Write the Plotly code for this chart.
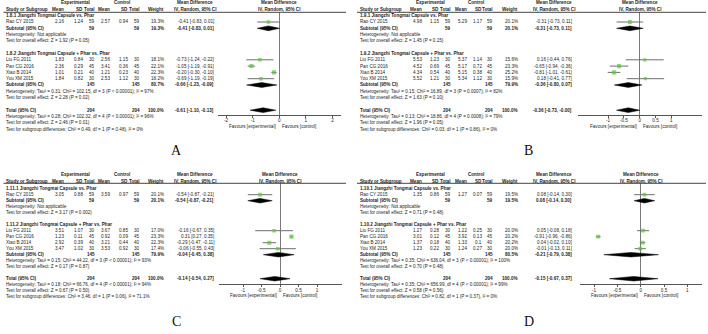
import plotly.graph_objects as go

# ---------------- data ----------------
studies = ["Rao CY 2015", "Liu FG 2011", "Pan CG 2016", "Xiao B 2014", "You XM 2015"]
study_n_exp = [59, 30, 45, 40, 30]
study_n_ctl = [59, 30, 45, 40, 30]
pooled_names = ["Subtotal (95% CI)", "Subtotal (95% CI)", "Total (95% CI)"]
pooled_n_exp = [59, 145, 204]
pooled_n_ctl = [59, 145, 204]
ticks_wide = [-2, -1, 0, 1, 2]
ticks_narrow = [-1, -0.5, 0, 0.5, 1]

# Panel A (1.8)
A_groups = ["1.8.1 Jiangzhi Tongmai Capsule vs. Phar", "1.8.2 Jiangzhi Tongmai Capsule + Phar vs. Phar"]
A_exp_mean = [2.16, 1.83, 2.36, 1.01, 1.84]
A_exp_sd = [1.24, 0.84, 0.29, 0.21, 0.82]
A_ctl_mean = [2.57, 2.56, 3.41, 1.21, 2.53]
A_ctl_sd = [0.94, 1.15, 0.36, 0.23, 1.12]
A_weight = [19.3, 18.1, 22.1, 22.3, 18.2]
A_md = [-0.41, -0.73, -1.05, -0.20, -0.69]
A_lo = [-0.83, -1.24, -1.19, -0.30, -1.19]
A_hi = [0.01, -0.22, -0.91, -0.10, -0.19]
A_pool_weight = [19.3, 80.7, 100.0]
A_pool_md = [-0.41, -0.66, -0.61]
A_pool_lo = [-0.83, -1.23, -1.10]
A_pool_hi = [0.01, -0.09, -0.13]
A_notes = ["Heterogeneity: Not applicable",
           "Test for overall effect: Z = 1.92 (P = 0.05)",
           "Heterogeneity: Tau² = 0.31; Chi² = 102.15, df = 3 (P < 0.00001); I² = 97%",
           "Test for overall effect: Z = 2.28 (P = 0.02)",
           "Heterogeneity: Tau² = 0.28; Chi² = 102.32, df = 4 (P < 0.00001); I² = 96%",
           "Test for overall effect: Z = 2.46 (P = 0.01)",
           "Test for subgroup differences: Chi² = 0.49, df = 1 (P = 0.48), I² = 0%"]

# Panel B (1.9)
B_groups = ["1.9.1 Jiangzhi Tongmai Capsule vs. Phar", "1.9.2 Jiangzhi Tongmai Capsule + Phar vs. Phar"]
B_exp_mean = [4.98, 5.53, 4.52, 4.34, 5.52]
B_exp_sd = [1.15, 1.23, 0.69, 0.54, 1.21]
B_ctl_mean = [5.29, 5.37, 5.17, 5.15, 5.34]
B_ctl_sd = [1.17, 1.14, 0.72, 0.38, 1.12]
B_weight = [20.1, 15.6, 23.3, 25.2, 15.9]
B_md = [-0.31, 0.16, -0.65, -0.81, 0.18]
B_lo = [-0.73, -0.44, -0.94, -1.01, -0.41]
B_hi = [0.11, 0.76, -0.36, -0.61, 0.77]
B_pool_weight = [20.1, 79.9, 100.0]
B_pool_md = [-0.31, -0.36, -0.36]
B_pool_lo = [-0.73, -0.80, -0.73]
B_pool_hi = [0.11, 0.07, -0.0]
B_notes = ["Heterogeneity: Not applicable",
           "Test for overall effect: Z = 1.45 (P = 0.15)",
           "Heterogeneity: Tau² = 0.15; Chi² = 16.89, df = 3 (P = 0.0007); I² = 82%",
           "Test for overall effect: Z = 1.63 (P = 0.10)",
           "Heterogeneity: Tau² = 0.13; Chi² = 18.86, df = 4 (P = 0.0008); I² = 79%",
           "Test for overall effect: Z = 1.96 (P = 0.05)",
           "Test for subgroup differences: Chi² = 0.03, df = 1 (P = 0.86), I² = 0%"]

# Panel C (1.11)
C_groups = ["1.11.1 Jiangzhi Tongmai Capsule vs. Phar", "1.11.2 Jiangzhi Tongmai Capsule + Phar vs. Phar"]
C_exp_mean = [3.05, 3.51, 1.23, 2.92, 3.47]
C_exp_sd = [0.88, 1.07, 0.11, 0.39, 1.02]
C_ctl_mean = [3.59, 3.67, 0.92, 3.21, 3.53]
C_ctl_sd = [0.97, 0.85, 0.09, 0.44, 0.92]
C_weight = [20.1, 17.0, 23.3, 22.3, 17.4]
C_md = [-0.54, -0.16, 0.31, -0.29, -0.06]
C_lo = [-0.87, -0.67, 0.27, -0.47, -0.55]
C_hi = [-0.21, 0.35, 0.35, -0.11, 0.43]
C_pool_weight = [20.1, 79.9, 100.0]
C_pool_md = [-0.54, -0.04, -0.14]
C_pool_lo = [-0.87, -0.45, -0.54]
C_pool_hi = [-0.21, 0.38, 0.27]
C_notes = ["Heterogeneity: Not applicable",
           "Test for overall effect: Z = 3.17 (P = 0.002)",
           "Heterogeneity: Tau² = 0.15; Chi² = 44.22, df = 3 (P < 0.00001); I² = 93%",
           "Test for overall effect: Z = 0.17 (P = 0.87)",
           "Heterogeneity: Tau² = 0.18; Chi² = 66.76, df = 4 (P < 0.00001); I² = 94%",
           "Test for overall effect: Z = 0.67 (P = 0.50)",
           "Test for subgroup differences: Chi² = 3.46, df = 1 (P = 0.06), I² = 71.1%"]

# Panel D (1.10)
D_groups = ["1.10.1 Jiangzhi Tongmai Capsule vs. Phar", "1.10.2 Jiangzhi Tongmai Capsule + Phar vs. Phar"]
D_exp_mean = [1.35, 1.27, 3.01, 1.37, 1.23]
D_exp_sd = [0.86, 0.28, 0.12, 0.18, 0.22]
D_ctl_mean = [1.27, 1.22, 3.92, 1.33, 1.24]
D_ctl_sd = [0.07, 0.25, 0.13, 0.1, 0.27]
D_weight = [19.5, 20.0, 20.2, 20.2, 20.0]
D_md = [0.08, 0.05, -0.91, 0.04, -0.01]
D_lo = [-0.14, -0.08, -0.96, -0.02, -0.13]
D_hi = [0.30, 0.18, -0.86, 0.10, 0.11]
D_pool_weight = [19.5, 80.5, 100.0]
D_pool_md = [0.08, -0.21, -0.15]
D_pool_lo = [-0.14, -0.79, -0.67]
D_pool_hi = [0.30, 0.38, 0.37]
D_notes = ["Heterogeneity: Not applicable",
           "Test for overall effect: Z = 0.71 (P = 0.48)",
           "Heterogeneity: Tau² = 0.35; Chi² = 636.04, df = 3 (P < 0.00001); I² = 100%",
           "Test for overall effect: Z = 0.70 (P = 0.48)",
           "Heterogeneity: Tau² = 0.35; Chi² = 656.99, df = 4 (P < 0.00001); I² = 99%",
           "Test for overall effect: Z = 0.58 (P = 0.56)",
           "Test for subgroup differences: Chi² = 0.82, df = 1 (P = 0.37), I² = 0%"]

# ---------------- styling / geometry ----------------
W, H = 708, 334
FONT = "Arial, 'Liberation Sans', sans-serif"
FS = 4.6
TXT = "#1e1e1e"
GREEN = "#5cc43b"
CI_COL = "#6e6e6e"
DH = 0.38

GEO_TOP = dict(row0=15.7, pitch=6.3, hdr1=2.7, hdr2=9.3, line=12.3, axis=114.5, fav=126.5)
GEO_BOT = dict(row0=188.7, pitch=6.0, hdr1=174.7, hdr2=181.3, line=183.3, axis=284, fav=295.5)
COL_L = dict(ox=0, study=5.5, em=63.5, esd=82.5, en=94.5, cm=109.5, csd=127.5, cn=139.5,
             w=163.5, ci=213.5, hexp=75, hctl=122, hmd=195, ll=3.5, lr=346)
COL_R = dict(ox=354, study=5.5, em=68.4, esd=85, en=97, cm=112.5, csd=128, cn=139,
             w=164, ci=218.3, hexp=76, hctl=122, hmd=200, ll=3, lr=352)

ann, shapes = [], []


def X(px):
    return px / W


def Y(py):
    return 1 - py / H


def text(px, py, s, anchor="left", bold=False, size=FS, family=FONT, color=TXT):
    ann.append(dict(x=X(px), y=Y(py), xref="paper", yref="paper",
                    text=f"<b>{s}</b>" if bold else s, showarrow=False,
                    xanchor=anchor, yanchor="middle", borderpad=0, borderwidth=0,
                    font=dict(family=family, size=size, color=color)))


def fmt(v):
    return f"{v:g}"


fig = go.Figure()


def build(k, letter, D, G, C, F, tickvals):
    xa = "x" if k == 1 else f"x{k}"
    ya = "y" if k == 1 else f"y{k}"
    ox = C["ox"]

    def ry(r):
        return G["row0"] + G["pitch"] * r

    # header
    text(ox + C["hexp"], G["hdr1"], "Experimental", "center", True)
    text(ox + C["hctl"], G["hdr1"], "Control", "center", True)
    text(ox + C["hmd"], G["hdr1"], "Mean Difference", "center", True)
    text(F["zero"], G["hdr1"], "Mean Difference", "center", True)
    text(ox + C["study"], G["hdr2"], "Study or Subgroup", "left", True)
    for key, lab in [("em", "Mean"), ("esd", "SD"), ("en", "Total"), ("cm", "Mean"),
                     ("csd", "SD"), ("cn", "Total"), ("w", "Weight")]:
        text(ox + C[key], G["hdr2"], lab, "right", True)
    text(ox + C["hmd"], G["hdr2"], "IV, Random, 95% CI", "center", True)
    text(F["zero"], G["hdr2"], "IV, Random, 95% CI", "center", True)
    shapes.append(dict(type="line", xref="paper", yref="paper",
                       x0=X(ox + C["ll"]), x1=X(ox + C["lr"]), y0=Y(G["line"]), y1=Y(G["line"]),
                       line=dict(color="#444", width=1)))

    # groups
    for g, r in zip(D["groups"], [0, 6]):
        text(ox + C["study"], ry(r), g, "left", True)
    srow = [1, 7, 8, 9, 10]
    for i, r in enumerate(srow):
        y = ry(r)
        text(ox + C["study"] + 0.5, y, studies[i])
        text(ox + C["em"], y, fmt(D["em"][i]), "right")
        text(ox + C["esd"], y, fmt(D["esd"][i]), "right")
        text(ox + C["en"], y, str(study_n_exp[i]), "right")
        text(ox + C["cm"], y, fmt(D["cm"][i]), "right")
        text(ox + C["csd"], y, fmt(D["csd"][i]), "right")
        text(ox + C["cn"], y, str(study_n_ctl[i]), "right")
        text(ox + C["w"], y, f"{D['w'][i]:.1f}%", "right")
        text(ox + C["ci"], y, f"{D['md'][i]:.2f} [{D['lo'][i]:.2f}, {D['hi'][i]:.2f}]", "right")
    prow = [2, 11, 15]
    for j, r in enumerate(prow):
        y = ry(r)
        text(ox + C["study"] + (0.5 if j < 2 else 0), y, pooled_names[j], "left", True)
        text(ox + C["en"], y, str(pooled_n_exp[j]), "right", True)
        text(ox + C["cn"], y, str(pooled_n_ctl[j]), "right", True)
        text(ox + C["w"], y, f"{D['pw'][j]:.1f}%", "right", True)
        text(ox + C["ci"], y, f"{D['pmd'][j]:.2f} [{D['plo'][j]:.2f}, {D['phi'][j]:.2f}]", "right", True)
    for s, r in zip(D["notes"], [3, 4, 12, 13, 16, 17, 18]):
        text(ox + C["study"] + 0.5, ry(r), s)

    # forest traces
    xs, ys = [], []
    for lo, hi, r in zip(D["lo"], D["hi"], srow):
        xs += [lo, hi, None]
        ys += [r, r, None]
    fig.add_trace(go.Scatter(x=xs, y=ys, mode="lines", line=dict(color=CI_COL, width=1),
                             xaxis=xa, yaxis=ya, hoverinfo="skip", showlegend=False))
    fig.add_trace(go.Scatter(x=D["md"], y=srow, mode="markers",
                             marker=dict(symbol="square", size=[1.6 + 0.11 * w for w in D["w"]],
                                         color=GREEN, line=dict(width=0)),
                             xaxis=xa, yaxis=ya, showlegend=False))
    for md, lo, hi, r in zip(D["pmd"], D["plo"], D["phi"], prow):
        fig.add_trace(go.Scatter(x=[lo, md, hi, md, lo], y=[r, r - DH, r, r + DH, r],
                                 mode="lines", fill="toself", fillcolor="black",
                                 line=dict(color="black", width=0.5),
                                 xaxis=xa, yaxis=ya, hoverinfo="skip", showlegend=False))

    # axes
    unit = F["unit"]
    xr = [(F["left"] - F["zero"]) / unit, (F["right"] - F["zero"]) / unit]
    yr = [(G["axis"] - G["row0"]) / G["pitch"], (G["line"] - G["row0"]) / G["pitch"]]
    suffix = "" if k == 1 else str(k)
    fig.update_layout(**{
        "xaxis" + suffix: dict(domain=[X(F["left"]), X(F["right"])], range=xr, anchor=ya,
                               showgrid=False, zeroline=True, zerolinecolor="#7a7a7a", zerolinewidth=1,
                               showline=True, linecolor="#555", linewidth=1,
                               ticks="outside", ticklen=2, tickwidth=1, tickcolor="#555",
                               ticklabelstandoff=-1,
                               tickvals=tickvals, ticktext=[fmt(t) for t in tickvals],
                               tickfont=dict(family=FONT, size=FS, color=TXT), fixedrange=True),
        "yaxis" + suffix: dict(domain=[Y(G["axis"]), Y(G["line"])], range=yr, anchor=xa,
                               showgrid=False, zeroline=False, showticklabels=False, ticks="",
                               showline=False, fixedrange=True),
    })
    text(F["zero"] - 3, G["fav"], "Favours [experimental]", "right")
    text(F["zero"] + 3, G["fav"], "Favours [control]", "left")
    # panel letter
    text(F["letter_x"], F["letter_y"], letter, "center", False, 14,
         "'Liberation Serif', 'Times New Roman', serif", "#111")


def pack(groups, em, esd, cm, csd, w, md, lo, hi, pw, pmd, plo, phi, notes):
    return dict(groups=groups, em=em, esd=esd, cm=cm, csd=csd, w=w, md=md, lo=lo, hi=hi,
                pw=pw, pmd=pmd, plo=plo, phi=phi, notes=notes)


build(1, "A", pack(A_groups, A_exp_mean, A_exp_sd, A_ctl_mean, A_ctl_sd, A_weight, A_md, A_lo, A_hi,
                   A_pool_weight, A_pool_md, A_pool_lo, A_pool_hi, A_notes),
      GEO_TOP, COL_L, dict(zero=279.3, unit=26.6, left=218, right=341, letter_x=176.5, letter_y=150),
      ticks_wide)
build(2, "B", pack(B_groups, B_exp_mean, B_exp_sd, B_ctl_mean, B_ctl_sd, B_weight, B_md, B_lo, B_hi,
                   B_pool_weight, B_pool_md, B_pool_lo, B_pool_hi, B_notes),
      GEO_TOP, COL_R, dict(zero=639.7, unit=31.7, left=578, right=702, letter_x=528.5, letter_y=150),
      ticks_narrow)
build(3, "C", pack(C_groups, C_exp_mean, C_exp_sd, C_ctl_mean, C_ctl_sd, C_weight, C_md, C_lo, C_hi,
                   C_pool_weight, C_pool_md, C_pool_lo, C_pool_hi, C_notes),
      GEO_BOT, COL_L, dict(zero=280, unit=37, left=219, right=341.7, letter_x=176.5, letter_y=321),
      ticks_narrow)
build(4, "D", pack(D_groups, D_exp_mean, D_exp_sd, D_ctl_mean, D_ctl_sd, D_weight, D_md, D_lo, D_hi,
                   D_pool_weight, D_pool_md, D_pool_lo, D_pool_hi, D_notes),
      GEO_BOT, COL_R, dict(zero=640.7, unit=46.7, left=580, right=702, letter_x=528.5, letter_y=321),
      ticks_narrow)

fig.update_layout(width=W, height=H, margin=dict(l=0, r=0, t=0, b=0),
                  paper_bgcolor="white", plot_bgcolor="white", showlegend=False,
                  annotations=ann, shapes=shapes)
fig.write_html("out.html")
